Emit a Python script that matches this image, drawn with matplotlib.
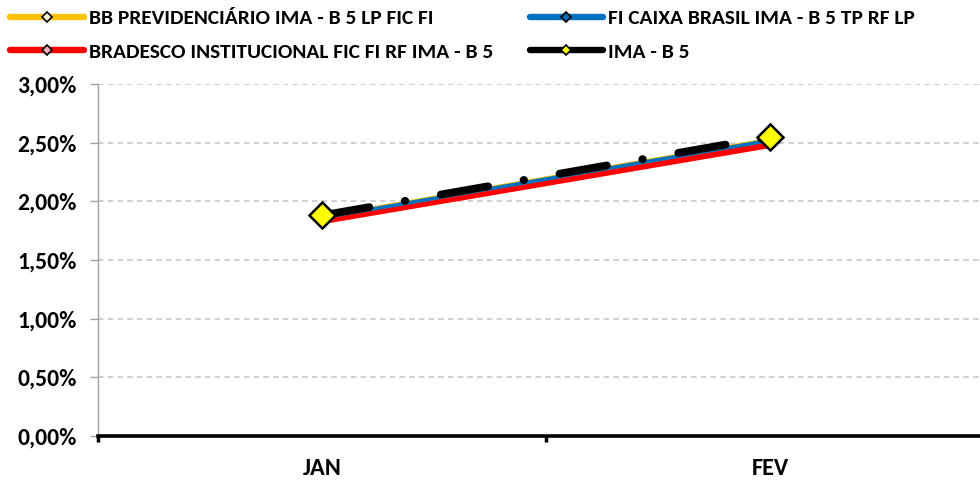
import matplotlib
matplotlib.use("Agg")
import matplotlib.pyplot as plt
from matplotlib.lines import Line2D
from matplotlib.ticker import FuncFormatter, MultipleLocator

FAM = ['Carlito', 'DejaVu Sans']
plt.rcParams['font.family'] = FAM
plt.rcParams['font.weight'] = 'bold'
plt.rcParams['lines.scale_dashes'] = False

categories = ["JAN", "FEV"]
bb_prev = [1.865, 2.525]
caixa = [1.86, 2.52]
bradesco = [1.84, 2.49]
ima_b5 = [1.88, 2.55]
series_names = ["BB PREVIDENCIÁRIO IMA - B 5 LP FIC FI",
                "FI CAIXA BRASIL IMA - B 5 TP RF LP",
                "BRADESCO INSTITUCIONAL FIC FI RF IMA - B 5",
                "IMA - B 5"]

fig = plt.figure(figsize=(9.8, 4.82), dpi=100)
ax = fig.add_axes([98/980, 1-436/482, (994-98)/980, (436-84)/482])
x = list(range(len(categories)))

ax.plot(x, bradesco, color='#FF0000', lw=6.0, solid_capstyle='butt', zorder=3)
ax.plot(x, bb_prev, color='#FFC000', lw=3.0, solid_capstyle='butt', zorder=4)
ax.plot(x, caixa, color='#0070C0', lw=2.6, solid_capstyle='butt', zorder=5)
ax.plot(x, ima_b5, color='black', lw=5.6, dashes=(34.6, 25.9, 0.4, 25.9),
        dash_capstyle='round', zorder=6)
ax.plot(x, ima_b5, ls='none', marker='D', ms=13, mfc='#FFFF00', mec='black',
        mew=1.8, zorder=7)

ax.set_xlim(-0.5, 1.5)
ax.set_ylim(0, 3.0)
ax.yaxis.set_major_locator(MultipleLocator(0.5))
ax.yaxis.set_major_formatter(FuncFormatter(lambda v, p: f"{v:.2f}".replace('.', ',') + '%'))
ax.grid(axis='y', color='#C8C8C8', ls=(0, (4, 3)), lw=1.2)
ax.set_axisbelow(True)
for s in ['top', 'right']:
    ax.spines[s].set_visible(False)
ax.spines['left'].set_color('#A0A0A0')
ax.spines['left'].set_linewidth(1.0)
ax.spines['bottom'].set_color('black')
ax.spines['bottom'].set_linewidth(2.6)
ax.spines['bottom'].set_zorder(8)
ax.set_xticks([-0.5, 0.5, 1.5])
ax.set_xticklabels([])
ax.set_xticks(x, minor=True)
ax.set_xticklabels(categories, minor=True, fontsize=17.5, fontweight='bold')
ax.tick_params(axis='x', which='major', length=4, width=2.5, color='black', direction='out')
ax.tick_params(axis='x', which='minor', length=0, pad=16)
ax.tick_params(axis='y', length=5.5, width=1, color='#A0A0A0', labelsize=17, pad=10)
for t in ax.get_yticklabels():
    t.set_fontweight('bold')

handles = [
    Line2D([], [], color='#FFC000', lw=4.6, marker='D', ms=5.5, mfc='#FFF2CC', mec='black', mew=1.2, solid_capstyle='round'),
    Line2D([], [], color='#0070C0', lw=4.6, marker='D', ms=5.5, mfc='#0070C0', mec='black', mew=1.2, solid_capstyle='round'),
    Line2D([], [], color='#FF0000', lw=4.6, marker='D', ms=5.5, mfc='#F4B0B0', mec='black', mew=1.2, solid_capstyle='round'),
    Line2D([], [], color='black', lw=4.6, marker='D', ms=5.5, mfc='#FFFF00', mec='black', mew=1.2, solid_capstyle='round'),
]
order = [0, 2, 1, 3]
fig.legend([handles[i] for i in order], [series_names[i] for i in order],
           loc='upper left', bbox_to_anchor=(6/980, 1-5/482), ncol=2, frameon=False,
           prop={'family': FAM, 'weight': 'bold', 'size': 15.4},
           handlelength=3.45, handletextpad=0.23, columnspacing=1.7, labelspacing=0.72,
           borderaxespad=0.0, borderpad=0.2)

fig.savefig("out.png", dpi=100)
